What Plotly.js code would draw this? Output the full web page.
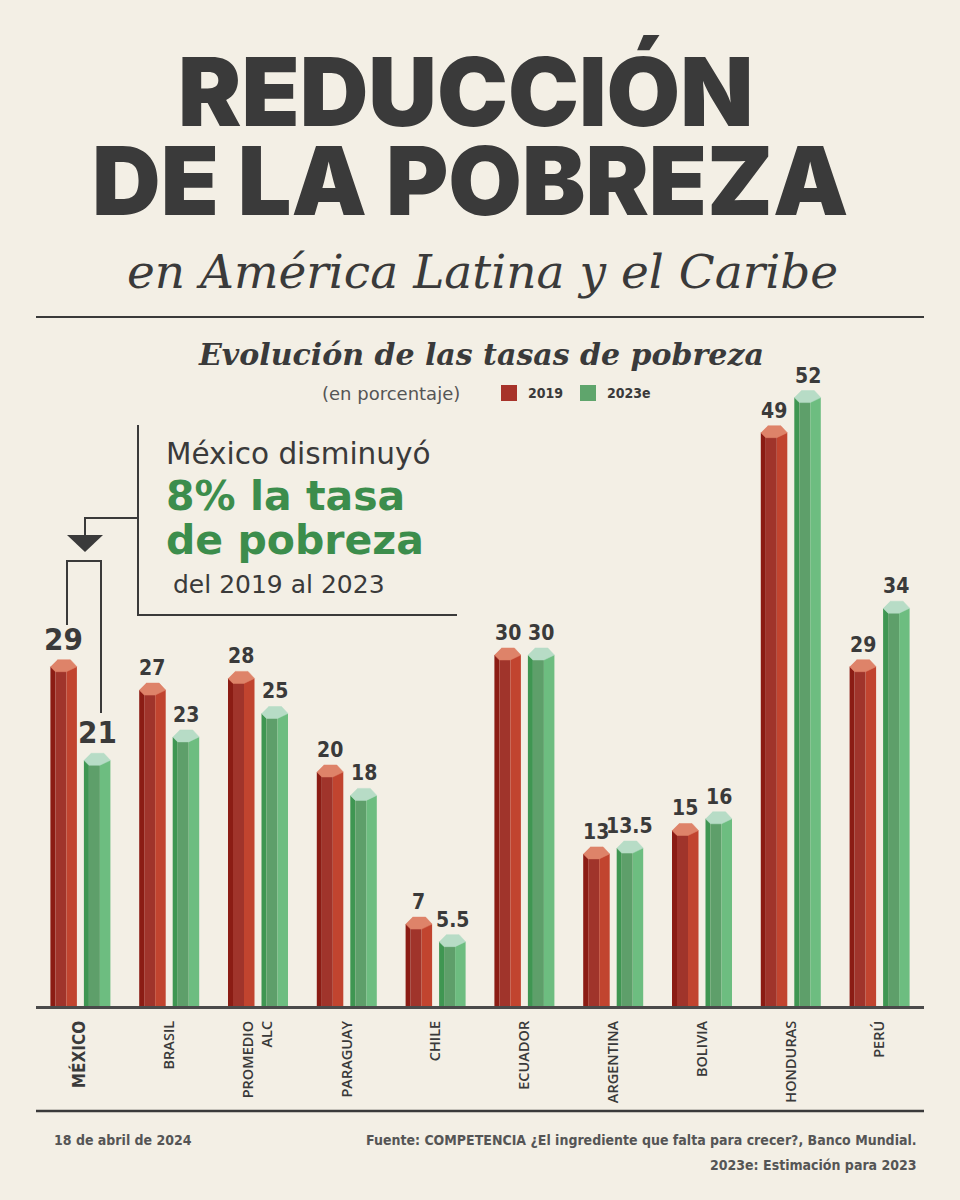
<!DOCTYPE html>
<html><head><meta charset="utf-8">
<script src="https://cdn.plot.ly/plotly-3.0.1.min.js"></script>
<style>html,body{margin:0;padding:0;background:#f3efe5}#chart{width:960px;height:1200px}</style>
</head><body><div id="chart"></div>
<script>
// ---------------- DATA ----------------
const categories = ['MÉXICO','BRASIL','PROMEDIO<br>ALC','PARAGUAY','CHILE','ECUADOR','ARGENTINA','BOLIVIA','HONDURAS','PERÚ'];
const values2019 = [29, 27, 28, 20, 7, 30, 13, 15, 49, 29];
const values2023 = [21, 23, 25, 18, 5.5, 30, 13.5, 16, 52, 34];
const labels2019 = ['29','27','28','20','7','30','13','15','49','29'];
const labels2023 = ['21','23','25','18','5.5','30','13.5','16','52','34'];
const seriesNames = ['2019', '2023e'];

// ---------------- LAYOUT GEOMETRY ----------------
const W = 960, H = 1200, ML = 36, MR = 36, MT = 300, MB = 194;
const plotW = W - ML - MR, plotH = H - MT - MB;
const yMax = 60.34;
const xUnit = plotW / categories.length;   // px per category
const yUnit = plotH / yMax;                // px per value unit
const X = px => (px - ML) / plotW;
const Y = py => (H - MB - py) / plotH;

const BG = '#f3efe5', TXT = '#3a3a3a';
const styles = [
  {left: -30, faces: ['#8b1c14', '#a0342b', '#c1442f'], cap: '#de8369'},
  {left: 3.5, faces: ['#3f9652', '#5e9f6a', '#6dbd80'], cap: '#b7dcc6'}
];
const stripes = [[0, 5], [5, 16], [16, 26.5]];
const capShape = [[0, 0], [5, -5], [16, -5], [26.5, 0], [20, 7], [7, 7]];
const idx = categories.map((c, i) => i);

const traces = [];
const annotations = [];
[values2019, values2023].forEach((vals, s) => {
  const st = styles[s];
  stripes.forEach((sp, k) => {
    traces.push({
      type: 'bar', x: idx, y: vals, name: seriesNames[s],
      offset: (st.left + sp[0]) / xUnit, width: (sp[1] - sp[0]) / xUnit,
      marker: {color: st.faces[k], line: {width: 0}},
      showlegend: false, hoverinfo: 'skip'
    });
  });
  const cx = [], cy = [];
  vals.forEach((v, i) => {
    capShape.forEach(p => { cx.push(i + (st.left + p[0]) / xUnit); cy.push(v + p[1] / yUnit); });
    cx.push(null); cy.push(null);
  });
  traces.push({type: 'scatter', mode: 'lines', x: cx, y: cy, fill: 'toself',
    fillcolor: st.cap, line: {width: 0.5, color: st.cap}, showlegend: false, hoverinfo: 'skip'});
  const labs = s === 0 ? labels2019 : labels2023;
  vals.forEach((v, i) => {
    annotations.push({
      x: i + (st.left + 13.25) / xUnit, y: v, xref: 'x', yref: 'y',
      text: labs[i], showarrow: false, yanchor: 'bottom', yshift: 8,
      font: {family: 'DejaVu Sans Condensed, Liberation Sans Narrow, sans-serif',
             size: i === 0 ? 31 : 21, weight: i === 0 ? 800 : 600, color: TXT}
    });
  });
});

const tickText = categories.map((c, i) => i === 0
  ? '<span style="font-size:17px;font-family:DejaVu Sans Condensed"><b>' + c + '</b></span>' : c);

function pa(text, x, y, font, xanchor, yanchor) {
  annotations.push({text, x: X(x), y: Y(y), xref: 'paper', yref: 'paper', showarrow: false,
    xanchor: xanchor || 'center', yanchor: yanchor || 'middle', font});
}
// Titles
pa('REDUCCIÓN', 465, 91, {family: 'Inter', size: 95, weight: 900, color: TXT});
pa('DE LA POBREZA', 470, 180, {family: 'Inter', size: 95, weight: 900, color: TXT});
pa('<i>en América Latina y el Caribe</i>', 482, 271, {family: 'DejaVu Serif', size: 47, color: TXT});
pa('<b><i>Evolución de las tasas de pobreza</i></b>', 481, 354, {family: 'DejaVu Serif', size: 30, color: TXT});
pa('(en porcentaje)', 391, 393, {family: 'DejaVu Sans', size: 18, color: '#555'});
pa(seriesNames[0], 526, 393, {family: 'DejaVu Sans Condensed, sans-serif', size: 14, weight: 600, color: TXT}, 'left');
pa(seriesNames[1], 605, 393, {family: 'DejaVu Sans Condensed, sans-serif', size: 14, weight: 600, color: TXT}, 'left');
// Callout
pa('México disminuyó', 164, 454, {family: 'DejaVu Sans', size: 29.5, color: TXT}, 'left');
pa('<b>8% la tasa</b>', 164, 496, {family: 'DejaVu Sans', size: 41, weight: 800, color: '#3c8d4c'}, 'left');
pa('<b>de pobreza</b>', 164, 540, {family: 'DejaVu Sans', size: 41, weight: 800, color: '#3c8d4c'}, 'left');
pa('del 2019 al 2023', 171, 584, {family: 'DejaVu Sans', size: 25, color: TXT}, 'left');
// Footer
const footFont = {family: 'DejaVu Sans Condensed, Liberation Sans Narrow, sans-serif', size: 14, weight: 600, color: '#555'};
pa('18 de abril de 2024', 52, 1140, footFont, 'left');
pa('Fuente: COMPETENCIA ¿El ingrediente que falta para crecer?, Banco Mundial.', 919, 1140, footFont, 'right');
pa('2023e: Estimación para 2023', 919, 1165, footFont, 'right');

const ln = {color: TXT, width: 2};
const shapes = [
  {type: 'line', xref: 'paper', yref: 'paper', x0: X(36), x1: X(924), y0: Y(317), y1: Y(317), line: {color: TXT, width: 2}},
  {type: 'line', xref: 'paper', yref: 'paper', x0: X(36), x1: X(924), y0: Y(1111), y1: Y(1111), line: {color: TXT, width: 2.5}},
  {type: 'path', xref: 'paper', yref: 'paper', path: `M${X(138)},${Y(425)} L${X(138)},${Y(615)} L${X(457)},${Y(615)}`, line: ln},
  {type: 'path', xref: 'paper', yref: 'paper', path: `M${X(138)},${Y(518)} L${X(85)},${Y(518)} L${X(85)},${Y(535)}`, line: ln},
  {type: 'path', xref: 'paper', yref: 'paper', path: `M${X(67)},${Y(535)} L${X(103)},${Y(535)} L${X(85)},${Y(552)} Z`, fillcolor: TXT, line: {width: 0}},
  {type: 'path', xref: 'paper', yref: 'paper', path: `M${X(67)},${Y(625)} L${X(67)},${Y(561)} L${X(101)},${Y(561)} L${X(101)},${Y(713)}`, line: ln},
  {type: 'rect', xref: 'paper', yref: 'paper', x0: X(501), x1: X(517), y0: Y(385), y1: Y(401), fillcolor: '#a7332a', line: {width: 0}},
  {type: 'rect', xref: 'paper', yref: 'paper', x0: X(580), x1: X(596), y0: Y(385), y1: Y(401), fillcolor: '#5fa56c', line: {width: 0}}
];

const layout = {
  width: W, height: H, margin: {l: ML, r: MR, t: MT, b: MB},
  paper_bgcolor: BG, plot_bgcolor: BG, barmode: 'overlay', showlegend: false,
  xaxis: {range: [-0.5, categories.length - 0.5], tickvals: idx, ticktext: tickText, tickangle: -90,
    ticks: '', ticklabelstandoff: 6, showgrid: false, zeroline: false,
    showline: true, linecolor: '#4a4a4a', linewidth: 3,
    tickfont: {family: 'Open Sans', size: 14.5, weight: 600, color: TXT}},
  yaxis: {range: [0, yMax], visible: false, showgrid: false, zeroline: false},
  annotations, shapes
};
Plotly.newPlot('chart', traces, layout, {staticPlot: true, displayModeBar: false});
</script></body></html>
